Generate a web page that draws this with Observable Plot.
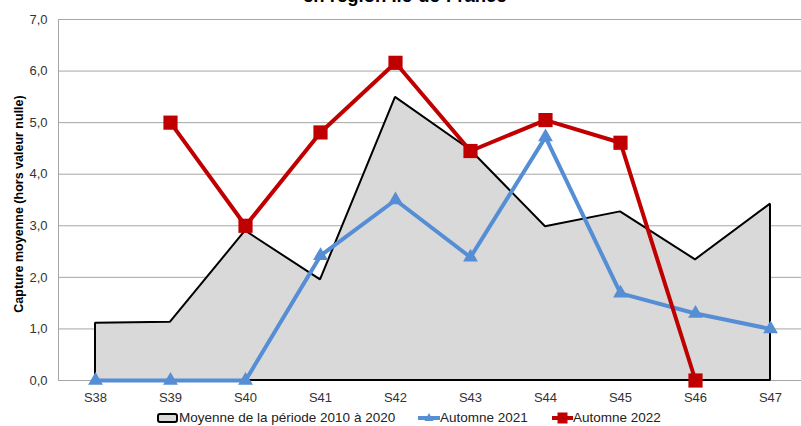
<!DOCTYPE html>
<html>
<head>
<meta charset="utf-8">
<script src="https://cdn.jsdelivr.net/npm/d3@7"></script>
<script src="https://cdn.jsdelivr.net/npm/@observablehq/plot@0.6"></script>
<style>
  html, body { margin: 0; padding: 0; background: #fff; overflow: hidden; }
  body { font-family: "Liberation Sans", Arial, sans-serif; width: 801px; height: 426px; position: relative; }
  #title { position: absolute; top: -15px; left: 303px; font-weight: bold; font-size: 18.5px; line-height: 21px; color: #000; z-index: 2; white-space: nowrap; }
  #chart { position: absolute; top: 0; left: 0; }
  #legend { position: absolute; top: 409px; left: 0; width: 801px; height: 17px; font-size: 13.5px; color: #222; white-space: nowrap; }
  .item { position: absolute; top: 0; display: flex; align-items: center; height: 17px; }
</style>
</head>
<body>
<div id="title">en région Ile-de-France</div>
<div id="chart"></div>
<div id="legend"></div>
<script>
const weeks = ["S38","S39","S40","S41","S42","S43","S44","S45","S46","S47"];
const moyenne = [1.11, 1.13, 2.90, 1.95, 5.49, 4.47, 2.98, 3.27, 2.34, 3.42];
const automne2021 = [0, 0, 0, 2.42, 3.50, 2.39, 4.72, 1.69, 1.30, 1.00];
const automne2022 = [null, 5.00, 3.00, 4.81, 6.16, 4.45, 5.05, 4.61, 0, null];
const yTicks = [0, 1, 2, 3, 4, 5, 6, 7];
const seriesNames = ["Moyenne de la période 2010 à 2020", "Automne 2021", "Automne 2022"];
const colors = {moy: "#d9d9d9", a2021: "#558ed5", a2022: "#c00000"};

const dMoy = weeks.map((w, i) => ({week: w, value: moyenne[i]}));
const d2021 = weeks.map((w, i) => ({week: w, value: automne2021[i]}));
const d2022 = weeks.map((w, i) => ({week: w, value: automne2022[i]})).filter(d => d.value != null);

const fmt = d => d.toFixed(1).replace(".", ",");

const chart = Plot.plot({
  width: 801,
  height: 408,
  marginTop: 19,
  marginBottom: 28,
  marginLeft: 58,
  marginRight: 0,
  style: {fontFamily: "Liberation Sans, Arial, sans-serif", fontSize: "13px", color: "#333", background: "#fff"},
  x: {type: "point", domain: weeks, range: [94.5, 769.5], padding: 0},
  y: {domain: [0, 7]},
  marks: [
    Plot.gridY(yTicks, {stroke: "#a6a6a6", strokeOpacity: 1, strokeWidth: 1}),
    Plot.frame({anchor: "left", stroke: "#a6a6a6", strokeWidth: 1}),
    Plot.axisY(yTicks, {tickSize: 0, tickPadding: 11, tickFormat: fmt, label: null, fontSize: 13, fill: "#333"}),
    Plot.axisX({tickSize: 0, tickPadding: 12, label: null, fontSize: 13, fill: "#333"}),
    Plot.text(["Capture moyenne (hors valeur nulle)"], {frameAnchor: "left", textAnchor: "middle", dx: -40, dy: 4, rotate: -90, fontWeight: "bold", fontSize: 12.5, fill: "#000"}),
    Plot.areaY(dMoy, {x: "week", y: "value", fill: colors.moy, stroke: "#000", strokeWidth: 2, strokeLinejoin: "miter"}),
    Plot.lineY(d2021, {x: "week", y: "value", stroke: colors.a2021, strokeWidth: 4, strokeLinejoin: "miter"}),
    Plot.dot(d2021, {x: "week", y: "value", symbol: "triangle", r: 5.5, fill: colors.a2021, stroke: "none"}),
    Plot.lineY(d2022, {x: "week", y: "value", stroke: colors.a2022, strokeWidth: 4, strokeLinejoin: "miter"}),
    Plot.dot(d2022, {x: "week", y: "value", symbol: "square", r: 8, fill: colors.a2022, stroke: "none"})
  ]
});
document.getElementById("chart").appendChild(chart);

// Legend
const legend = document.getElementById("legend");
function addItem(name, left, swatchSvg) {
  const div = document.createElement("div");
  div.className = "item";
  div.style.left = left + "px";
  div.innerHTML = swatchSvg + `<span>${name}</span>`;
  legend.appendChild(div);
}
addItem(seriesNames[0], 157, `<svg width="22" height="12"><rect x="1" y="2" width="19" height="8" rx="2" fill="${colors.moy}" stroke="#000" stroke-width="2"/></svg>`);
addItem(seriesNames[1], 418, `<svg width="22" height="12"><line x1="0" y1="6" x2="22" y2="6" stroke="${colors.a2021}" stroke-width="4"/><path d="M11,1 L15.5,9 L6.5,9 Z" fill="${colors.a2021}"/></svg>`);
addItem(seriesNames[2], 552, `<svg width="21" height="12"><line x1="0" y1="6" x2="21" y2="6" stroke="${colors.a2022}" stroke-width="4"/><rect x="5.5" y="0.5" width="10" height="11" fill="${colors.a2022}"/></svg>`);
</script>
</body>
</html>
